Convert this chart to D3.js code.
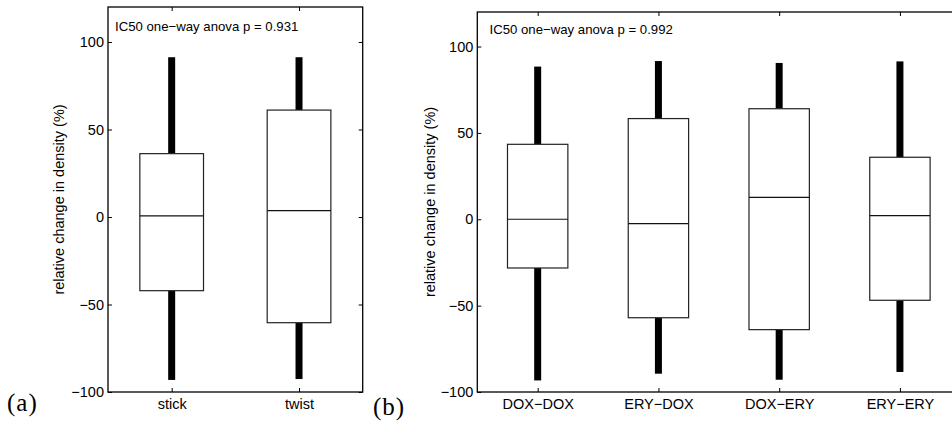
<!DOCTYPE html>
<html>
<head>
<meta charset="utf-8">
<script src="https://cdn.jsdelivr.net/npm/d3@7"></script>
<style>
  html, body { margin: 0; padding: 0; background: #fff; }
  svg { display: block; }
  text { font-family: "Liberation Sans", Arial, Helvetica, sans-serif; fill: #000; }
</style>
</head>
<body>
<svg id="chart" width="952" height="422"></svg>
<script>
// ---- data ----
const yTicks = [-100, -50, 0, 50, 100];
const yDomain = [-100, 120];

const catsA = ["stick", "twist"];
const lowA = [-93.1, -92.6];
const q1A = [-42.1, -60.4];
const medA = [0.6, 3.6];
const q3A = [36.2, 61.1];
const highA = [91.3, 91.3];
const noteA = "IC50 one\u2212way anova p = 0.931";

const catsB = ["DOX\u2212DOX", "ERY\u2212DOX", "DOX\u2212ERY", "ERY\u2212ERY"];
const lowB = [-93.3, -89.4, -92.9, -88.4];
const q1B = [-28.2, -57.0, -63.9, -46.9];
const medB = [0.0, -2.5, 12.7, 2.1];
const q3B = [43.4, 58.3, 64.0, 35.9];
const highB = [88.4, 91.6, 90.5, 91.4];
const noteB = "IC50 one\u2212way anova p = 0.992";

const yLabel = "relative change in density (%)";

const svg = d3.select("#chart");

function panel(cfg) {
  const { left, right, top, bottom, cats, low, q1, med, q3, high, note, tag } = cfg;
  const g = svg.append("g");
  const x = d3.scalePoint().domain(cats).range([left, right]).padding(0.5);
  const y = d3.scaleLinear().domain(yDomain).range([bottom, top]);
  const step = x.step();
  const bw = step * 0.5;

  // whiskers
  cats.forEach((c, i) => {
    g.append("line")
      .attr("x1", x(c)).attr("x2", x(c))
      .attr("y1", y(q3[i])).attr("y2", y(high[i]))
      .attr("stroke", "#000").attr("stroke-width", 7);
    g.append("line")
      .attr("x1", x(c)).attr("x2", x(c))
      .attr("y1", y(q1[i])).attr("y2", y(low[i]))
      .attr("stroke", "#000").attr("stroke-width", 7);
  });
  // boxes
  cats.forEach((c, i) => {
    g.append("rect")
      .attr("x", x(c) - bw / 2).attr("width", bw)
      .attr("y", y(q3[i])).attr("height", y(q1[i]) - y(q3[i]))
      .attr("fill", "#fff").attr("stroke", "#222").attr("stroke-width", 1.2);
    g.append("line")
      .attr("x1", x(c) - bw / 2).attr("x2", x(c) + bw / 2)
      .attr("y1", y(med[i])).attr("y2", y(med[i]))
      .attr("stroke", "#111").attr("stroke-width", 1.2);
  });

  // frame
  g.append("rect")
    .attr("x", left).attr("y", top)
    .attr("width", right - left).attr("height", bottom - top)
    .attr("fill", "none").attr("stroke", "#000").attr("stroke-width", 1.3);

  // axes (inward ticks)
  const ax = g.append("g").attr("transform", `translate(0,${bottom})`)
    .call(d3.axisBottom(x).tickSizeInner(-4).tickSizeOuter(0).tickPadding(7));
  ax.selectAll("text").style("font-size", "14.5px");
  g.append("g").attr("transform", `translate(0,${top})`)
    .call(d3.axisTop(x).tickSizeInner(-4).tickSizeOuter(0).tickFormat(""));
  const ay = g.append("g").attr("transform", `translate(${left},0)`)
    .call(d3.axisLeft(y).tickValues(yTicks).tickSizeInner(-4).tickSizeOuter(0).tickPadding(4));
  ay.selectAll("text").style("font-size", "14.5px");
  g.append("g").attr("transform", `translate(${right},0)`)
    .call(d3.axisRight(y).tickValues(yTicks).tickSizeInner(-4).tickSizeOuter(0).tickFormat(""));
  g.selectAll(".domain").remove();
  g.selectAll(".tick line").attr("stroke", "#000");
  g.selectAll(".tick text").attr("fill", "#000").attr("font-family", null);

  // ylabel
  g.append("text")
    .attr("transform", `translate(${cfg.ylabX},${(top + bottom) / 2}) rotate(-90)`)
    .attr("text-anchor", "middle")
    .style("font-size", "14.5px")
    .text(yLabel);

  // annotation
  g.append("text")
    .attr("x", cfg.noteX).attr("y", cfg.noteY)
    .style("font-size", "13.2px")
    .text(note);

  // panel tag
  g.append("text")
    .attr("x", cfg.tagX).attr("y", cfg.tagY)
    .style("font-family", "'Liberation Serif', 'Times New Roman', serif")
    .style("font-size", "25px")
    .style("letter-spacing", "1px")
    .text(tag);
}

panel({
  left: 108, right: 362.7, top: 7, bottom: 392,
  cats: catsA, low: lowA, q1: q1A, med: medA, q3: q3A, high: highA,
  note: noteA, noteX: 115, noteY: 30.7, ylabX: 64,
  tag: "(a)", tagX: 7, tagY: 411
});
panel({
  left: 477.3, right: 960.3, top: 12, bottom: 392,
  cats: catsB, low: lowB, q1: q1B, med: medB, q3: q3B, high: highB,
  note: noteB, noteX: 489.5, noteY: 34.3, ylabX: 435,
  tag: "(b)", tagX: 373, tagY: 415
});
</script>
</body>
</html>
